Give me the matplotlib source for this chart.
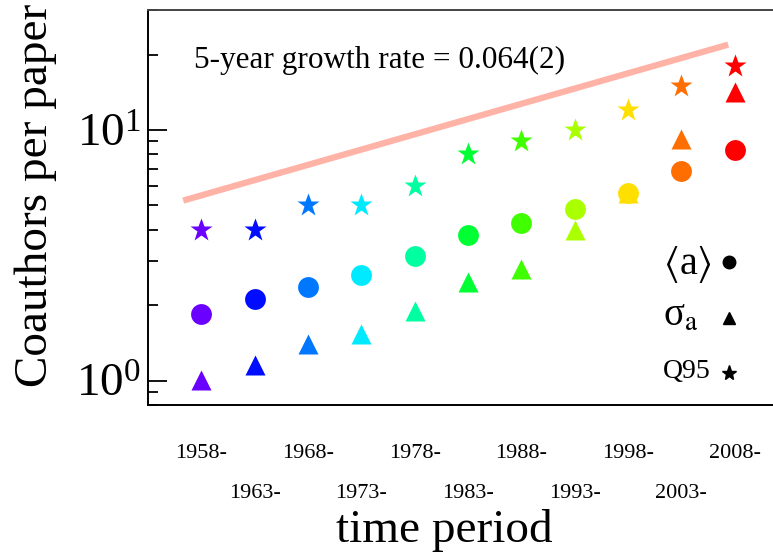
import matplotlib
matplotlib.use("Agg")
import matplotlib.pyplot as plt
from matplotlib.ticker import NullFormatter, LogLocator

plt.rcParams['font.family'] = ['Liberation Serif', 'DejaVu Serif']
plt.rcParams['mathtext.fontset'] = 'stix'

# ---- data ----
periods = [1958, 1963, 1968, 1973, 1978, 1983, 1988, 1993, 1998, 2003, 2008]
period_labels = ['1958-', '1963-', '1968-', '1973-', '1978-', '1983-',
                 '1988-', '1993-', '1998-', '2003-', '2008-']
mean_a = [1.85, 2.12, 2.36, 2.63, 3.13, 3.80, 4.24, 4.84, 5.61, 6.84, 8.29]
sigma_a = [1.01, 1.16, 1.40, 1.54, 1.90, 2.47, 2.78, 4.00, 5.62, 9.21, 14.15]
q95 = [4, 4, 5, 5, 6, 8, 9, 10, 12, 15, 18]
fit_x = [1956.3, 2007.4]
fit_y = [5.23, 21.9]
colors = ['#6a00ff', '#000cff', '#0077ff', '#00eaff', '#00ffa0', '#00ff33',
          '#40ff00', '#aaff00', '#ffdf00', '#ff6e00', '#ff0000']

fig = plt.figure(figsize=(7.73, 5.54), dpi=100)
ax = fig.add_axes([148 / 773, 1 - 405 / 554, 625 / 773, 395 / 554])

ax.plot(fit_x, fit_y, color='#ffb3a6', lw=4.5, solid_capstyle='butt', zorder=1)

for x, m, s, q, c in zip(periods, mean_a, sigma_a, q95, colors):
    ax.plot([x], [s], marker='^', ms=15, color=c, mec='none', ls='none', zorder=2)
    ax.plot([x], [m], marker='o', ms=15, color=c, mec='none', ls='none', zorder=3)
    ax.plot([x], [q], marker='*', ms=17, color=c, mec='none', ls='none', zorder=3)

ax.set_yscale('log')
ax.set_ylim(0.80, 30.1)
ax.set_xlim(1953.0, 2011.6)

# x ticks: alternating two rows, no tick marks
ax.set_xticks(periods[0::2], period_labels[0::2])
ax.set_xticks(periods[1::2], period_labels[1::2], minor=True)
ax.tick_params(axis='x', which='both', length=0, labelsize=16)
ax.tick_params(axis='x', which='major', pad=28)
ax.tick_params(axis='x', which='minor', pad=57)

ax.yaxis.set_minor_locator(LogLocator(base=10, subs=range(2, 10)))
ax.yaxis.set_minor_formatter(NullFormatter())
ax.tick_params(axis='y', which='major', direction='in', length=14, width=1.3,
               labelsize=34, pad=5)
ax.tick_params(axis='y', which='minor', direction='in', length=7, width=1.3)

for side in ['left', 'bottom']:
    ax.spines[side].set_linewidth(1.4)
ax.spines['top'].set_linewidth(1.4)
ax.spines['top'].set_color('#444444')
ax.spines['right'].set_visible(False)

ax.set_ylabel('Coauthors per paper', fontsize=34)
ax.yaxis.set_label_coords(-148/625 + 36/625, 0.53)
ax.set_xlabel('time period', fontsize=34)
ax.xaxis.set_label_coords((444 - 148) / 625, -(531 - 405) / 395)
ax.xaxis.label.set_va('center')
ax.yaxis.label.set_va('center')

ax.text((194 - 148) / 625, (405 - 68) / 395, '5-year growth rate = 0.064(2)',
        transform=ax.transAxes, fontsize=22.5, ha='left', va='baseline')

# legend (manual)
leg_x_text = (663 - 148) / 625
leg_x_mark = (729 - 148) / 625
rows = [((405 - 262) / 395, (405 - 264) / 395, 'o', r'$\langle$a$\rangle$', 29, 9),
        ((405 - 318) / 395, (405 - 316) / 395, '^', r'σ$_{\rm a}$', 28, 9),
        ((405 - 373) / 395, (405 - 371) / 395, '*', 'Q95', 20, 11)]
for ym, yt, mk, lab, fs, ms in rows:
    ax.plot([leg_x_mark], [ym], marker=mk, ms=ms, color='black', ls='none',
            transform=ax.transAxes, clip_on=False)
    ax.text(leg_x_text, yt, lab, transform=ax.transAxes, fontsize=fs,
            ha='left', va='center')

fig.savefig('out.png', dpi=100)
